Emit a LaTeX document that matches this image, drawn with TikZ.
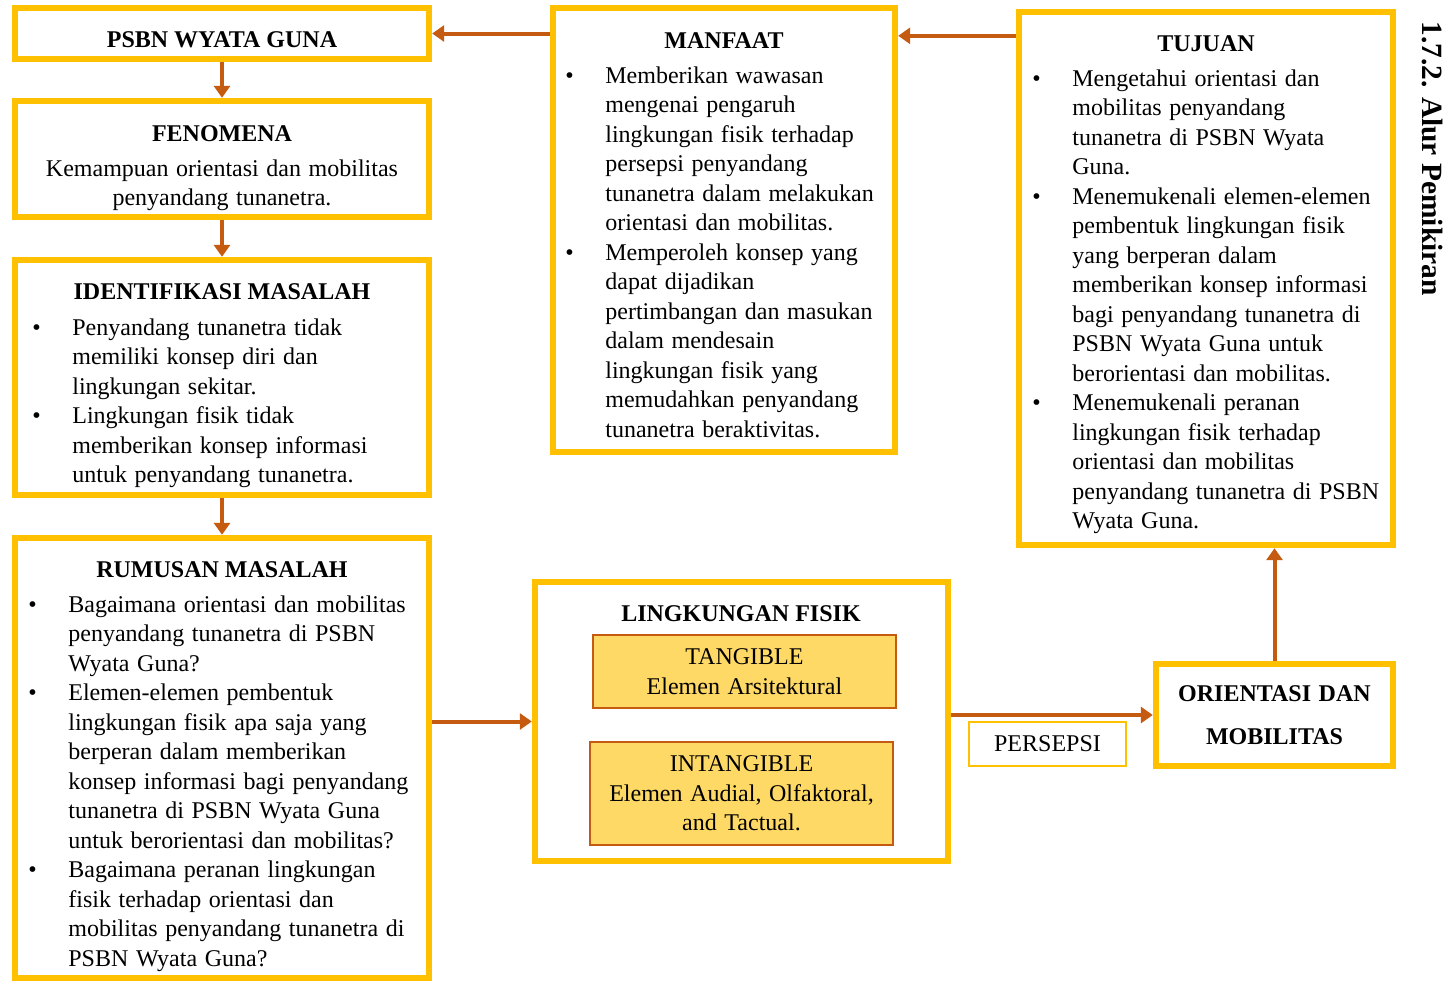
\documentclass[tikz,border=0pt]{standalone}
\usepackage{fontspec}
\setmainfont{Liberation Serif}
\usetikzlibrary{arrows.meta,calc}
\definecolor{gold}{HTML}{FFC000}
\definecolor{rust}{HTML}{C55A11}
\definecolor{sand}{HTML}{FFD966}
\newcommand{\bodyfont}{\fontsize{12}{14.75}\selectfont\spaceskip=3.8pt plus 1pt minus 0.5pt\relax}
\begin{document}
\begin{tikzpicture}[x=0.5pt,y=-0.5pt,
		font=\bodyfont,
		box/.style={draw=gold,line width=3.2pt,fill=white,inner sep=0pt},
		subbox/.style={draw=rust,line width=0.9pt,fill=sand,inner sep=0pt,align=center},
		head/.style={font=\fontsize{12}{14.75}\selectfont\bfseries,inner sep=0pt},
		txt/.style={inner sep=0pt,align=center},
		list/.style={inner sep=0pt,anchor=base west},
		arr/.style={draw=rust,line width=2pt,-{Triangle[length=6pt,width=8pt]}}]
		\useasboundingbox (0,0) rectangle (1448,981);
		\node[box,minimum width=207pt,minimum height=25.5pt] (psbn) at (222,33.5) {};
		\node[box,minimum width=207pt,minimum height=58pt] (fenomena) at (222,159) {};
		\node[box,minimum width=207pt,minimum height=117.5pt] (ident) at (222,377.5) {};
		\node[box,minimum width=207pt,minimum height=220pt] (rumusan) at (222,758) {};
		\node[box,minimum width=171pt,minimum height=222pt] (manfaat) at (724,230) {};
		\node[box,minimum width=187pt,minimum height=266.5pt] (tujuan) at (1206,278.5) {};
		\node[box,minimum width=206.5pt,minimum height=139.5pt] (lingkungan) at (741.5,721.5) {};
		\node[box,minimum width=118.5pt,minimum height=51pt,align=center] (orientasi) at (1274.5,715)
			{\bfseries ORIENTASI DAN\\[7pt]\bfseries MOBILITAS};
		\node[draw=gold,line width=1pt,minimum width=78.5pt,minimum height=22pt,inner sep=0pt] (persepsi) at (1047.5,744) {PERSEPSI};
		\node[subbox,minimum width=151.5pt,minimum height=36.5pt] (tangible) at (744.5,671.5)
			{TANGIBLE\\Elemen Arsitektural};
		\node[subbox,minimum width=151.5pt,minimum height=51.5pt] (intangible) at (741.5,793.5)
			{INTANGIBLE\\Elemen Audial, Olfaktoral,\\and Tactual.};
		\node[head] (psbnT) at (222,39.5) {PSBN WYATA GUNA};
		\node[head] (fenomenaT) at (222,133.5) {FENOMENA};
		\node[txt] (fenomenaB) at (222,185.5) {Kemampuan orientasi dan mobilitas\\penyandang tunanetra.};
		\node[head] (identT) at (222,291.5) {IDENTIFIKASI MASALAH};
		\node[head] (rumusanT) at (222,569.5) {RUMUSAN MASALAH};
		\node[head] (manfaatT) at (724,40.5) {MANFAAT};
		\node[head] (tujuanT) at (1206,43.5) {TUJUAN};
		\node[head] (lingkunganT) at (741,613.5) {LINGKUNGAN FISIK};
		\node[font=\fontsize{14.7}{16}\selectfont\bfseries,rotate=-90,inner sep=0pt] (judul) at (1432,158.5) {1.7.2. Alur Pemikiran};
		\node[list] (identL) at (32,335) {\begin{tabular}[t]{@{}p{20pt}@{}l@{}}
			\textbullet & Penyandang tunanetra tidak\\
			& memiliki konsep diri dan\\
			& lingkungan sekitar.\\
			\textbullet & Lingkungan fisik tidak\\
			& memberikan konsep informasi\\
			& untuk penyandang tunanetra.
		\end{tabular}};
		\node[list] (rumusanL) at (28,612) {\begin{tabular}[t]{@{}p{20pt}@{}l@{}}
			\textbullet & Bagaimana orientasi dan mobilitas\\
			& penyandang tunanetra di PSBN\\
			& Wyata Guna?\\
			\textbullet & Elemen-elemen pembentuk\\
			& lingkungan fisik apa saja yang\\
			& berperan dalam memberikan\\
			& konsep informasi bagi penyandang\\
			& tunanetra di PSBN Wyata Guna\\
			& untuk berorientasi dan mobilitas?\\
			\textbullet & Bagaimana peranan lingkungan\\
			& fisik terhadap orientasi dan\\
			& mobilitas penyandang tunanetra di\\
			& PSBN Wyata Guna?
		\end{tabular}};
		\node[list] (manfaatL) at (565,83) {\begin{tabular}[t]{@{}p{20pt}@{}l@{}}
			\textbullet & Memberikan wawasan\\
			& mengenai pengaruh\\
			& lingkungan fisik terhadap\\
			& persepsi penyandang\\
			& tunanetra dalam melakukan\\
			& orientasi dan mobilitas.\\
			\textbullet & Memperoleh konsep yang\\
			& dapat dijadikan\\
			& pertimbangan dan masukan\\
			& dalam mendesain\\
			& lingkungan fisik yang\\
			& memudahkan penyandang\\
			& tunanetra beraktivitas.
		\end{tabular}};
		\node[list] (tujuanL) at (1032,86) {\begin{tabular}[t]{@{}p{20pt}@{}l@{}}
			\textbullet & Mengetahui orientasi dan\\
			& mobilitas penyandang\\
			& tunanetra di PSBN Wyata\\
			& Guna.\\
			\textbullet & Menemukenali elemen-elemen\\
			& pembentuk lingkungan fisik\\
			& yang berperan dalam\\
			& memberikan konsep informasi\\
			& bagi penyandang tunanetra di\\
			& PSBN Wyata Guna untuk\\
			& berorientasi dan mobilitas.\\
			\textbullet & Menemukenali peranan\\
			& lingkungan fisik terhadap\\
			& orientasi dan mobilitas\\
			& penyandang tunanetra di PSBN\\
			& Wyata Guna.
		\end{tabular}};
		\draw[arr] (psbn) -- (fenomena);
		\draw[arr] (fenomena) -- (ident);
		\draw[arr] (ident) -- (rumusan);
		\draw[arr] (manfaat.west |- psbn.east) -- (psbn.east);
		\coordinate (tjout) at ($(tujuan.north west)+(0,27)$);
		\draw[arr] (tjout) -- (tjout -| manfaat.east);
		\draw[arr] (rumusan.east |- lingkungan.west) -- (lingkungan.west);
		\draw[arr] (lingkungan.east |- orientasi.west) -- (orientasi.west);
		\draw[arr] (orientasi.north) -- (orientasi.north |- tujuan.south);
\end{tikzpicture}
\end{document}
